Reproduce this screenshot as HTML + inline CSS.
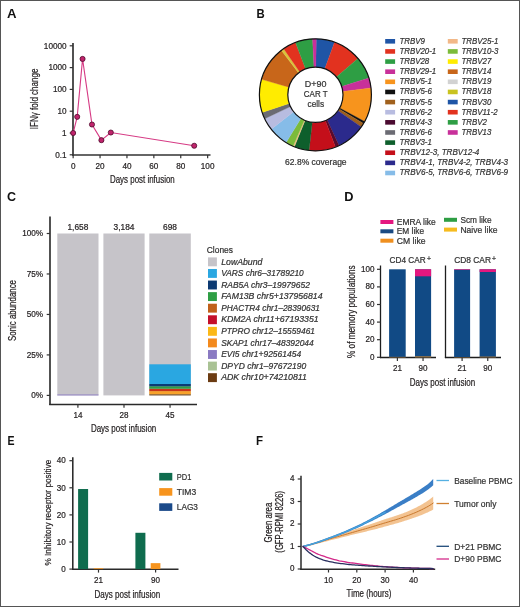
<!DOCTYPE html>
<html><head><meta charset="utf-8"><style>
html,body{margin:0;padding:0;background:#fff;}
body{width:520px;height:607px;overflow:hidden;}
svg{display:block;font-family:"Liberation Sans", sans-serif;will-change:transform;}
</style></head><body>
<svg width="520" height="607" viewBox="0 0 520 607">
<rect x="0" y="0" width="520" height="607" fill="#fff"/>
<text x="7.00" y="17.70" font-size="13.2" fill="#111" font-weight="bold" textLength="9.53" lengthAdjust="spacingAndGlyphs">A</text>
<text x="256.60" y="17.70" font-size="13.2" fill="#111" font-weight="bold" textLength="8.20" lengthAdjust="spacingAndGlyphs">B</text>
<text x="6.90" y="200.60" font-size="13.2" fill="#111" font-weight="bold" textLength="9.06" lengthAdjust="spacingAndGlyphs">C</text>
<text x="344.20" y="200.60" font-size="13.2" fill="#111" font-weight="bold" textLength="9.25" lengthAdjust="spacingAndGlyphs">D</text>
<text x="7.60" y="445.10" font-size="13.2" fill="#111" font-weight="bold" textLength="7.04" lengthAdjust="spacingAndGlyphs">E</text>
<text x="256.10" y="445.10" font-size="13.2" fill="#111" font-weight="bold" textLength="7.02" lengthAdjust="spacingAndGlyphs">F</text>
<line x1="73.00" y1="43.00" x2="73.00" y2="155.80" stroke="#333" stroke-width="1.7"/>
<line x1="69.70" y1="45.80" x2="73.00" y2="45.80" stroke="#333" stroke-width="1.2"/>
<text x="66.60" y="48.60" font-size="8.8" fill="#231f20" stroke="#231f20" stroke-width="0.22" text-anchor="end" textLength="22.76" lengthAdjust="spacingAndGlyphs">10000</text>
<line x1="69.70" y1="67.60" x2="73.00" y2="67.60" stroke="#333" stroke-width="1.2"/>
<text x="66.60" y="70.40" font-size="8.8" fill="#231f20" stroke="#231f20" stroke-width="0.22" text-anchor="end" textLength="18.21" lengthAdjust="spacingAndGlyphs">1000</text>
<line x1="69.70" y1="89.40" x2="73.00" y2="89.40" stroke="#333" stroke-width="1.2"/>
<text x="66.60" y="92.20" font-size="8.8" fill="#231f20" stroke="#231f20" stroke-width="0.22" text-anchor="end" textLength="13.66" lengthAdjust="spacingAndGlyphs">100</text>
<line x1="69.70" y1="111.20" x2="73.00" y2="111.20" stroke="#333" stroke-width="1.2"/>
<text x="66.60" y="114.00" font-size="8.8" fill="#231f20" stroke="#231f20" stroke-width="0.22" text-anchor="end" textLength="9.10" lengthAdjust="spacingAndGlyphs">10</text>
<line x1="69.70" y1="133.00" x2="73.00" y2="133.00" stroke="#333" stroke-width="1.2"/>
<text x="66.60" y="135.80" font-size="8.8" fill="#231f20" stroke="#231f20" stroke-width="0.22" text-anchor="end" textLength="4.55" lengthAdjust="spacingAndGlyphs">1</text>
<line x1="69.70" y1="154.80" x2="73.00" y2="154.80" stroke="#333" stroke-width="1.2"/>
<text x="66.60" y="157.60" font-size="8.8" fill="#231f20" stroke="#231f20" stroke-width="0.22" text-anchor="end" textLength="11.38" lengthAdjust="spacingAndGlyphs">0.1</text>
<line x1="72.20" y1="155.00" x2="210.50" y2="155.00" stroke="#333" stroke-width="1.7"/>
<line x1="73.15" y1="155.00" x2="73.15" y2="158.30" stroke="#333" stroke-width="1.2"/>
<text x="73.15" y="168.70" font-size="8.8" fill="#231f20" stroke="#231f20" stroke-width="0.22" text-anchor="middle" textLength="4.55" lengthAdjust="spacingAndGlyphs">0</text>
<line x1="100.05" y1="155.00" x2="100.05" y2="158.30" stroke="#333" stroke-width="1.2"/>
<text x="100.05" y="168.70" font-size="8.8" fill="#231f20" stroke="#231f20" stroke-width="0.22" text-anchor="middle" textLength="9.10" lengthAdjust="spacingAndGlyphs">20</text>
<line x1="126.95" y1="155.00" x2="126.95" y2="158.30" stroke="#333" stroke-width="1.2"/>
<text x="126.95" y="168.70" font-size="8.8" fill="#231f20" stroke="#231f20" stroke-width="0.22" text-anchor="middle" textLength="9.10" lengthAdjust="spacingAndGlyphs">40</text>
<line x1="153.85" y1="155.00" x2="153.85" y2="158.30" stroke="#333" stroke-width="1.2"/>
<text x="153.85" y="168.70" font-size="8.8" fill="#231f20" stroke="#231f20" stroke-width="0.22" text-anchor="middle" textLength="9.10" lengthAdjust="spacingAndGlyphs">60</text>
<line x1="180.75" y1="155.00" x2="180.75" y2="158.30" stroke="#333" stroke-width="1.2"/>
<text x="180.75" y="168.70" font-size="8.8" fill="#231f20" stroke="#231f20" stroke-width="0.22" text-anchor="middle" textLength="9.10" lengthAdjust="spacingAndGlyphs">80</text>
<line x1="207.65" y1="155.00" x2="207.65" y2="158.30" stroke="#333" stroke-width="1.2"/>
<text x="207.65" y="168.70" font-size="8.8" fill="#231f20" stroke="#231f20" stroke-width="0.22" text-anchor="middle" textLength="13.66" lengthAdjust="spacingAndGlyphs">100</text>
<text x="110.00" y="182.70" font-size="10.2" fill="#231f20" stroke="#231f20" stroke-width="0.22" textLength="64.70" lengthAdjust="spacingAndGlyphs">Days post infusion</text>
<text x="37.60" y="98.90" font-size="11.0" fill="#231f20" stroke="#231f20" stroke-width="0.22" text-anchor="middle" textLength="60.50" lengthAdjust="spacingAndGlyphs" transform="rotate(-90 37.60 98.90)">IFNγ fold change</text>
<polyline points="73.15,133.00 77.19,116.86 82.56,58.92 91.98,124.52 101.40,140.15 110.81,132.54 194.20,145.75" fill="none" stroke="#d63a84" stroke-width="1.1"/>
<circle cx="73.15" cy="133.00" r="2.55" fill="#c0246c" stroke="#4e0c2c" stroke-width="0.8"/>
<circle cx="77.19" cy="116.86" r="2.55" fill="#c0246c" stroke="#4e0c2c" stroke-width="0.8"/>
<circle cx="82.56" cy="58.92" r="2.55" fill="#c0246c" stroke="#4e0c2c" stroke-width="0.8"/>
<circle cx="91.98" cy="124.52" r="2.55" fill="#c0246c" stroke="#4e0c2c" stroke-width="0.8"/>
<circle cx="101.40" cy="140.15" r="2.55" fill="#c0246c" stroke="#4e0c2c" stroke-width="0.8"/>
<circle cx="110.81" cy="132.54" r="2.55" fill="#c0246c" stroke="#4e0c2c" stroke-width="0.8"/>
<circle cx="194.20" cy="145.75" r="2.55" fill="#c0246c" stroke="#4e0c2c" stroke-width="0.8"/>
<path d="M316.28,38.81 A56.0,56.0 0 0 1 334.55,42.18 L324.84,68.86 A27.6,27.6 0 0 0 315.83,67.20 Z" fill="#1f55a6" stroke="#1f55a6" stroke-width="0.3"/>
<path d="M334.55,42.18 A56.0,56.0 0 0 1 357.98,58.43 L336.39,76.88 A27.6,27.6 0 0 0 324.84,68.86 Z" fill="#e2321f" stroke="#e2321f" stroke-width="0.3"/>
<path d="M357.98,58.43 A56.0,56.0 0 0 1 368.81,77.96 L341.72,86.50 A27.6,27.6 0 0 0 336.39,76.88 Z" fill="#2e9e44" stroke="#2e9e44" stroke-width="0.3"/>
<path d="M368.81,77.96 A56.0,56.0 0 0 1 370.98,87.98 L342.79,91.44 A27.6,27.6 0 0 0 341.72,86.50 Z" fill="#c8309a" stroke="#c8309a" stroke-width="0.3"/>
<path d="M370.98,87.98 A56.0,56.0 0 0 1 364.61,121.52 L339.66,107.97 A27.6,27.6 0 0 0 342.79,91.44 Z" fill="#f7941d" stroke="#f7941d" stroke-width="0.3"/>
<path d="M364.61,121.52 A56.0,56.0 0 0 1 363.50,123.47 L339.11,108.93 A27.6,27.6 0 0 0 339.66,107.97 Z" fill="#111111" stroke="#111111" stroke-width="0.3"/>
<path d="M363.50,123.47 A56.0,56.0 0 0 1 361.27,126.92 L338.01,110.63 A27.6,27.6 0 0 0 339.11,108.93 Z" fill="#a0601c" stroke="#a0601c" stroke-width="0.3"/>
<path d="M361.27,126.92 A56.0,56.0 0 0 1 339.07,145.55 L327.06,119.81 A27.6,27.6 0 0 0 338.01,110.63 Z" fill="#2b2a8c" stroke="#2b2a8c" stroke-width="0.3"/>
<path d="M339.07,145.55 A56.0,56.0 0 0 1 335.47,147.08 L325.29,120.57 A27.6,27.6 0 0 0 327.06,119.81 Z" fill="#5a0a2c" stroke="#5a0a2c" stroke-width="0.3"/>
<path d="M335.47,147.08 A56.0,56.0 0 0 1 309.06,150.44 L312.28,122.22 A27.6,27.6 0 0 0 325.29,120.57 Z" fill="#c40f1a" stroke="#c40f1a" stroke-width="0.3"/>
<path d="M309.06,150.44 A56.0,56.0 0 0 1 294.42,146.72 L305.06,120.39 A27.6,27.6 0 0 0 312.28,122.22 Z" fill="#0e5f2c" stroke="#0e5f2c" stroke-width="0.3"/>
<path d="M294.42,146.72 A56.0,56.0 0 0 1 293.07,146.16 L304.39,120.11 A27.6,27.6 0 0 0 305.06,120.39 Z" fill="#f0c080" stroke="#f0c080" stroke-width="0.3"/>
<path d="M293.07,146.16 A56.0,56.0 0 0 1 286.14,142.55 L300.98,118.33 A27.6,27.6 0 0 0 304.39,120.11 Z" fill="#7cbb3a" stroke="#7cbb3a" stroke-width="0.3"/>
<path d="M286.14,142.55 A56.0,56.0 0 0 1 271.27,129.28 L293.65,111.79 A27.6,27.6 0 0 0 300.98,118.33 Z" fill="#86bce8" stroke="#86bce8" stroke-width="0.3"/>
<path d="M271.27,129.28 A56.0,56.0 0 0 1 264.77,118.73 L290.45,106.60 A27.6,27.6 0 0 0 293.65,111.79 Z" fill="#b8bce0" stroke="#b8bce0" stroke-width="0.3"/>
<path d="M264.77,118.73 A56.0,56.0 0 0 1 262.23,112.38 L289.20,103.47 A27.6,27.6 0 0 0 290.45,106.60 Z" fill="#6b6b73" stroke="#6b6b73" stroke-width="0.3"/>
<path d="M262.23,112.38 A56.0,56.0 0 0 1 261.57,79.36 L288.87,87.19 A27.6,27.6 0 0 0 289.20,103.47 Z" fill="#ffec00" stroke="#ffec00" stroke-width="0.3"/>
<path d="M261.57,79.36 A56.0,56.0 0 0 1 281.31,50.37 L298.60,72.90 A27.6,27.6 0 0 0 288.87,87.19 Z" fill="#c8661a" stroke="#c8661a" stroke-width="0.3"/>
<path d="M281.31,50.37 A56.0,56.0 0 0 1 283.68,48.65 L299.77,72.05 A27.6,27.6 0 0 0 298.60,72.90 Z" fill="#d8c43a" stroke="#d8c43a" stroke-width="0.3"/>
<path d="M283.68,48.65 A56.0,56.0 0 0 1 295.51,42.45 L305.60,69.00 A27.6,27.6 0 0 0 299.77,72.05 Z" fill="#e2321f" stroke="#e2321f" stroke-width="0.3"/>
<path d="M295.51,42.45 A56.0,56.0 0 0 1 312.57,38.87 L314.00,67.24 A27.6,27.6 0 0 0 305.60,69.00 Z" fill="#2e9e44" stroke="#2e9e44" stroke-width="0.3"/>
<path d="M312.57,38.87 A56.0,56.0 0 0 1 316.28,38.81 L315.83,67.20 A27.6,27.6 0 0 0 314.00,67.24 Z" fill="#c8309a" stroke="#c8309a" stroke-width="0.3"/>
<circle cx="315.4" cy="94.8" r="56.0" fill="none" stroke="#111" stroke-width="1.2"/>
<circle cx="315.4" cy="94.8" r="27.6" fill="#fff" stroke="#111" stroke-width="1.2"/>
<text x="315.65" y="86.70" font-size="9.4" fill="#333" stroke="#333" stroke-width="0.22" text-anchor="middle" textLength="21.70" lengthAdjust="spacingAndGlyphs">D+90</text>
<text x="315.70" y="96.70" font-size="9.4" fill="#333" stroke="#333" stroke-width="0.22" text-anchor="middle" textLength="23.80" lengthAdjust="spacingAndGlyphs">CAR T</text>
<text x="315.80" y="106.90" font-size="9.4" fill="#333" stroke="#333" stroke-width="0.22" text-anchor="middle" textLength="16.60" lengthAdjust="spacingAndGlyphs">cells</text>
<text x="285.10" y="165.10" font-size="9.0" fill="#333" stroke="#333" stroke-width="0.22" textLength="61.50" lengthAdjust="spacingAndGlyphs">62.8% coverage</text>
<rect x="385.20" y="39.00" width="9.90" height="4.60" fill="#1f55a6"/>
<text x="399.40" y="43.80" font-size="9.2" fill="#333" stroke="#333" stroke-width="0.22" font-style="italic" textLength="25.42" lengthAdjust="spacingAndGlyphs">TRBV9</text>
<rect x="385.20" y="49.13" width="9.90" height="4.60" fill="#e2321f"/>
<text x="399.40" y="53.93" font-size="9.2" fill="#333" stroke="#333" stroke-width="0.22" font-style="italic" textLength="36.81" lengthAdjust="spacingAndGlyphs">TRBV20-1</text>
<rect x="385.20" y="59.26" width="9.90" height="4.60" fill="#2e9e44"/>
<text x="399.40" y="64.06" font-size="9.2" fill="#333" stroke="#333" stroke-width="0.22" font-style="italic" textLength="29.80" lengthAdjust="spacingAndGlyphs">TRBV28</text>
<rect x="385.20" y="69.39" width="9.90" height="4.60" fill="#c8309a"/>
<text x="399.40" y="74.19" font-size="9.2" fill="#333" stroke="#333" stroke-width="0.22" font-style="italic" textLength="36.81" lengthAdjust="spacingAndGlyphs">TRBV29-1</text>
<rect x="385.20" y="79.52" width="9.90" height="4.60" fill="#f7941d"/>
<text x="399.40" y="84.32" font-size="9.2" fill="#333" stroke="#333" stroke-width="0.22" font-style="italic" textLength="32.43" lengthAdjust="spacingAndGlyphs">TRBV5-1</text>
<rect x="385.20" y="89.65" width="9.90" height="4.60" fill="#111111"/>
<text x="399.40" y="94.45" font-size="9.2" fill="#333" stroke="#333" stroke-width="0.22" font-style="italic" textLength="32.43" lengthAdjust="spacingAndGlyphs">TRBV5-6</text>
<rect x="385.20" y="99.78" width="9.90" height="4.60" fill="#a0601c"/>
<text x="399.40" y="104.58" font-size="9.2" fill="#333" stroke="#333" stroke-width="0.22" font-style="italic" textLength="32.43" lengthAdjust="spacingAndGlyphs">TRBV5-5</text>
<rect x="385.20" y="109.91" width="9.90" height="4.60" fill="#b8bce0"/>
<text x="399.40" y="114.71" font-size="9.2" fill="#333" stroke="#333" stroke-width="0.22" font-style="italic" textLength="32.43" lengthAdjust="spacingAndGlyphs">TRBV6-2</text>
<rect x="385.20" y="120.04" width="9.90" height="4.60" fill="#4a0a30"/>
<text x="399.40" y="124.84" font-size="9.2" fill="#333" stroke="#333" stroke-width="0.22" font-style="italic" textLength="32.43" lengthAdjust="spacingAndGlyphs">TRBV4-3</text>
<rect x="385.20" y="130.17" width="9.90" height="4.60" fill="#6b6b73"/>
<text x="399.40" y="134.97" font-size="9.2" fill="#333" stroke="#333" stroke-width="0.22" font-style="italic" textLength="32.43" lengthAdjust="spacingAndGlyphs">TRBV6-6</text>
<rect x="385.20" y="140.30" width="9.90" height="4.60" fill="#0e5f2c"/>
<text x="399.40" y="145.10" font-size="9.2" fill="#333" stroke="#333" stroke-width="0.22" font-style="italic" textLength="32.43" lengthAdjust="spacingAndGlyphs">TRBV3-1</text>
<rect x="385.20" y="150.43" width="9.90" height="4.60" fill="#c40f1a"/>
<text x="399.40" y="155.23" font-size="9.2" fill="#333" stroke="#333" stroke-width="0.22" font-style="italic" textLength="79.98" lengthAdjust="spacingAndGlyphs">TRBV12-3, TRBV12-4</text>
<rect x="385.20" y="160.56" width="9.90" height="4.60" fill="#2b2a8c"/>
<text x="399.40" y="165.36" font-size="9.2" fill="#333" stroke="#333" stroke-width="0.22" font-style="italic" textLength="108.72" lengthAdjust="spacingAndGlyphs">TRBV4-1, TRBV4-2, TRBV4-3</text>
<rect x="385.20" y="170.69" width="9.90" height="4.60" fill="#86bce8"/>
<text x="399.40" y="175.49" font-size="9.2" fill="#333" stroke="#333" stroke-width="0.22" font-style="italic" textLength="108.72" lengthAdjust="spacingAndGlyphs">TRBV6-5, TRBV6-6, TRBV6-9</text>
<rect x="447.80" y="39.00" width="9.90" height="4.60" fill="#f2b888"/>
<text x="461.50" y="43.80" font-size="9.2" fill="#333" stroke="#333" stroke-width="0.22" font-style="italic" textLength="36.81" lengthAdjust="spacingAndGlyphs">TRBV25-1</text>
<rect x="447.80" y="49.13" width="9.90" height="4.60" fill="#7cbb3a"/>
<text x="461.50" y="53.93" font-size="9.2" fill="#333" stroke="#333" stroke-width="0.22" font-style="italic" textLength="36.81" lengthAdjust="spacingAndGlyphs">TRBV10-3</text>
<rect x="447.80" y="59.26" width="9.90" height="4.60" fill="#ffec00"/>
<text x="461.50" y="64.06" font-size="9.2" fill="#333" stroke="#333" stroke-width="0.22" font-style="italic" textLength="29.80" lengthAdjust="spacingAndGlyphs">TRBV27</text>
<rect x="447.80" y="69.39" width="9.90" height="4.60" fill="#c8661a"/>
<text x="461.50" y="74.19" font-size="9.2" fill="#333" stroke="#333" stroke-width="0.22" font-style="italic" textLength="29.80" lengthAdjust="spacingAndGlyphs">TRBV14</text>
<rect x="447.80" y="79.52" width="9.90" height="4.60" fill="#d2d2d2"/>
<text x="461.50" y="84.32" font-size="9.2" fill="#333" stroke="#333" stroke-width="0.22" font-style="italic" textLength="29.80" lengthAdjust="spacingAndGlyphs">TRBV19</text>
<rect x="447.80" y="89.65" width="9.90" height="4.60" fill="#c9c320"/>
<text x="461.50" y="94.45" font-size="9.2" fill="#333" stroke="#333" stroke-width="0.22" font-style="italic" textLength="29.80" lengthAdjust="spacingAndGlyphs">TRBV18</text>
<rect x="447.80" y="99.78" width="9.90" height="4.60" fill="#1f55a6"/>
<text x="461.50" y="104.58" font-size="9.2" fill="#333" stroke="#333" stroke-width="0.22" font-style="italic" textLength="29.80" lengthAdjust="spacingAndGlyphs">TRBV30</text>
<rect x="447.80" y="109.91" width="9.90" height="4.60" fill="#e2321f"/>
<text x="461.50" y="114.71" font-size="9.2" fill="#333" stroke="#333" stroke-width="0.22" font-style="italic" textLength="36.23" lengthAdjust="spacingAndGlyphs">TRBV11-2</text>
<rect x="447.80" y="120.04" width="9.90" height="4.60" fill="#2e9e44"/>
<text x="461.50" y="124.84" font-size="9.2" fill="#333" stroke="#333" stroke-width="0.22" font-style="italic" textLength="25.42" lengthAdjust="spacingAndGlyphs">TRBV2</text>
<rect x="447.80" y="130.17" width="9.90" height="4.60" fill="#c8309a"/>
<text x="461.50" y="134.97" font-size="9.2" fill="#333" stroke="#333" stroke-width="0.22" font-style="italic" textLength="29.80" lengthAdjust="spacingAndGlyphs">TRBV13</text>
<line x1="50.00" y1="216.50" x2="50.00" y2="405.10" stroke="#333" stroke-width="1.7"/>
<line x1="49.20" y1="404.40" x2="197.00" y2="404.40" stroke="#2a2a2a" stroke-width="1.5"/>
<line x1="46.70" y1="233.50" x2="50.00" y2="233.50" stroke="#333" stroke-width="1.2"/>
<text x="43.10" y="236.10" font-size="8.8" fill="#231f20" stroke="#231f20" stroke-width="0.22" text-anchor="end" textLength="20.93" lengthAdjust="spacingAndGlyphs">100%</text>
<line x1="46.70" y1="273.97" x2="50.00" y2="273.97" stroke="#333" stroke-width="1.2"/>
<text x="43.10" y="276.57" font-size="8.8" fill="#231f20" stroke="#231f20" stroke-width="0.22" text-anchor="end" textLength="16.38" lengthAdjust="spacingAndGlyphs">75%</text>
<line x1="46.70" y1="314.45" x2="50.00" y2="314.45" stroke="#333" stroke-width="1.2"/>
<text x="43.10" y="317.05" font-size="8.8" fill="#231f20" stroke="#231f20" stroke-width="0.22" text-anchor="end" textLength="16.38" lengthAdjust="spacingAndGlyphs">50%</text>
<line x1="46.70" y1="354.92" x2="50.00" y2="354.92" stroke="#333" stroke-width="1.2"/>
<text x="43.10" y="357.52" font-size="8.8" fill="#231f20" stroke="#231f20" stroke-width="0.22" text-anchor="end" textLength="16.38" lengthAdjust="spacingAndGlyphs">25%</text>
<line x1="46.70" y1="395.40" x2="50.00" y2="395.40" stroke="#333" stroke-width="1.2"/>
<text x="43.10" y="398.00" font-size="8.8" fill="#231f20" stroke="#231f20" stroke-width="0.22" text-anchor="end" textLength="11.83" lengthAdjust="spacingAndGlyphs">0%</text>
<rect x="57.30" y="233.50" width="41.20" height="161.90" fill="#c6c4c9"/>
<line x1="77.90" y1="404.40" x2="77.90" y2="407.70" stroke="#333" stroke-width="1.2"/>
<text x="77.90" y="417.90" font-size="8.8" fill="#231f20" stroke="#231f20" stroke-width="0.22" text-anchor="middle" textLength="9.01" lengthAdjust="spacingAndGlyphs">14</text>
<text x="77.90" y="230.30" font-size="8.6" fill="#231f20" stroke="#231f20" stroke-width="0.22" text-anchor="middle" textLength="20.88" lengthAdjust="spacingAndGlyphs">1,658</text>
<rect x="103.40" y="233.50" width="41.20" height="161.90" fill="#c6c4c9"/>
<line x1="124.00" y1="404.40" x2="124.00" y2="407.70" stroke="#333" stroke-width="1.2"/>
<text x="124.00" y="417.90" font-size="8.8" fill="#231f20" stroke="#231f20" stroke-width="0.22" text-anchor="middle" textLength="9.01" lengthAdjust="spacingAndGlyphs">28</text>
<text x="124.00" y="230.30" font-size="8.6" fill="#231f20" stroke="#231f20" stroke-width="0.22" text-anchor="middle" textLength="20.88" lengthAdjust="spacingAndGlyphs">3,184</text>
<rect x="149.30" y="233.50" width="41.50" height="161.90" fill="#c6c4c9"/>
<line x1="170.05" y1="404.40" x2="170.05" y2="407.70" stroke="#333" stroke-width="1.2"/>
<text x="170.05" y="417.90" font-size="8.8" fill="#231f20" stroke="#231f20" stroke-width="0.22" text-anchor="middle" textLength="9.01" lengthAdjust="spacingAndGlyphs">45</text>
<text x="170.05" y="230.30" font-size="8.6" fill="#231f20" stroke="#231f20" stroke-width="0.22" text-anchor="middle" textLength="13.92" lengthAdjust="spacingAndGlyphs">698</text>
<rect x="57.30" y="394.50" width="41.20" height="0.90" fill="#8a7ac2"/>
<rect x="149.30" y="394.20" width="41.50" height="1.20" fill="#7a5020"/>
<rect x="149.30" y="391.10" width="41.50" height="3.10" fill="#f7a22a"/>
<rect x="149.30" y="388.70" width="41.50" height="2.40" fill="#c8341a"/>
<rect x="149.30" y="386.30" width="41.50" height="2.40" fill="#2e9e44"/>
<rect x="149.30" y="384.00" width="41.50" height="2.30" fill="#0c3a72"/>
<rect x="149.30" y="364.30" width="41.50" height="19.70" fill="#2aa7e1"/>
<text x="16.40" y="310.50" font-size="10.2" fill="#231f20" stroke="#231f20" stroke-width="0.22" text-anchor="middle" textLength="61.00" lengthAdjust="spacingAndGlyphs" transform="rotate(-90 16.40 310.50)">Sonic abundance</text>
<text x="90.90" y="432.10" font-size="10.2" fill="#231f20" stroke="#231f20" stroke-width="0.22" textLength="65.40" lengthAdjust="spacingAndGlyphs">Days post infusion</text>
<text x="206.80" y="252.60" font-size="8.9" fill="#333" stroke="#333" stroke-width="0.22" textLength="26.20" lengthAdjust="spacingAndGlyphs">Clones</text>
<rect x="208.00" y="257.40" width="8.90" height="8.90" fill="#c6c4c9"/>
<text x="221.20" y="264.50" font-size="8.9" fill="#333" stroke="#333" stroke-width="0.22" font-style="italic" textLength="41.25" lengthAdjust="spacingAndGlyphs">LowAbund</text>
<rect x="208.00" y="268.98" width="8.90" height="8.90" fill="#2aa7e1"/>
<text x="221.20" y="276.08" font-size="8.9" fill="#333" stroke="#333" stroke-width="0.22" font-style="italic" textLength="82.50" lengthAdjust="spacingAndGlyphs">VARS chr6–31789210</text>
<rect x="208.00" y="280.56" width="8.90" height="8.90" fill="#0c3a72"/>
<text x="221.20" y="287.66" font-size="8.9" fill="#333" stroke="#333" stroke-width="0.22" font-style="italic" textLength="88.75" lengthAdjust="spacingAndGlyphs">RAB5A chr3–19979652</text>
<rect x="208.00" y="292.14" width="8.90" height="8.90" fill="#2e9e44"/>
<text x="221.20" y="299.24" font-size="8.9" fill="#333" stroke="#333" stroke-width="0.22" font-style="italic" textLength="101.30" lengthAdjust="spacingAndGlyphs">FAM13B chr5+137956814</text>
<rect x="208.00" y="303.72" width="8.90" height="8.90" fill="#c0601a"/>
<text x="221.20" y="310.82" font-size="8.9" fill="#333" stroke="#333" stroke-width="0.22" font-style="italic" textLength="98.75" lengthAdjust="spacingAndGlyphs">PHACTR4 chr1–28390631</text>
<rect x="208.00" y="315.30" width="8.90" height="8.90" fill="#c40f2a"/>
<text x="221.20" y="322.40" font-size="8.9" fill="#333" stroke="#333" stroke-width="0.22" font-style="italic" textLength="97.50" lengthAdjust="spacingAndGlyphs">KDM2A chr11+67193351</text>
<rect x="208.00" y="326.88" width="8.90" height="8.90" fill="#fbb817"/>
<text x="221.20" y="333.98" font-size="8.9" fill="#333" stroke="#333" stroke-width="0.22" font-style="italic" textLength="93.75" lengthAdjust="spacingAndGlyphs">PTPRO chr12–15559461</text>
<rect x="208.00" y="338.46" width="8.90" height="8.90" fill="#f38a1d"/>
<text x="221.20" y="345.56" font-size="8.9" fill="#333" stroke="#333" stroke-width="0.22" font-style="italic" textLength="92.50" lengthAdjust="spacingAndGlyphs">SKAP1 chr17–48392044</text>
<rect x="208.00" y="350.04" width="8.90" height="8.90" fill="#8a7ac2"/>
<text x="221.20" y="357.14" font-size="8.9" fill="#333" stroke="#333" stroke-width="0.22" font-style="italic" textLength="80.00" lengthAdjust="spacingAndGlyphs">EVI5 chr1+92561454</text>
<rect x="208.00" y="361.62" width="8.90" height="8.90" fill="#a9c294"/>
<text x="221.20" y="368.72" font-size="8.9" fill="#333" stroke="#333" stroke-width="0.22" font-style="italic" textLength="85.00" lengthAdjust="spacingAndGlyphs">DPYD chr1–97672190</text>
<rect x="208.00" y="373.20" width="8.90" height="8.90" fill="#6b3b12"/>
<text x="221.20" y="380.30" font-size="8.9" fill="#333" stroke="#333" stroke-width="0.22" font-style="italic" textLength="85.75" lengthAdjust="spacingAndGlyphs">ADK chr10+74210811</text>
<rect x="380.40" y="220.00" width="13.00" height="4.00" fill="#e4177f"/>
<text x="396.80" y="224.90" font-size="9.0" fill="#333" stroke="#333" stroke-width="0.22" textLength="39.00" lengthAdjust="spacingAndGlyphs">EMRA like</text>
<rect x="380.40" y="229.30" width="13.00" height="4.00" fill="#1a4a82"/>
<text x="396.80" y="234.20" font-size="9.0" fill="#333" stroke="#333" stroke-width="0.22" textLength="27.30" lengthAdjust="spacingAndGlyphs">EM like</text>
<rect x="380.40" y="238.70" width="13.00" height="4.00" fill="#ef8f1f"/>
<text x="396.80" y="243.60" font-size="9.0" fill="#333" stroke="#333" stroke-width="0.22" textLength="28.70" lengthAdjust="spacingAndGlyphs">CM like</text>
<rect x="444.00" y="217.80" width="13.00" height="4.00" fill="#2e9e44"/>
<text x="460.40" y="222.70" font-size="9.0" fill="#333" stroke="#333" stroke-width="0.22" textLength="31.20" lengthAdjust="spacingAndGlyphs">Scm like</text>
<rect x="444.00" y="227.60" width="13.00" height="4.00" fill="#f6bb1f"/>
<text x="460.40" y="232.50" font-size="9.0" fill="#333" stroke="#333" stroke-width="0.22" textLength="37.00" lengthAdjust="spacingAndGlyphs">Naive like</text>
<text x="389.50" y="263.20" font-size="8.6" fill="#333" stroke="#333" stroke-width="0.22" textLength="36.20" lengthAdjust="spacingAndGlyphs">CD4 CAR</text>
<text x="427.00" y="261.00" font-size="6.8" fill="#333" stroke="#333" stroke-width="0.22">+</text>
<text x="454.20" y="263.00" font-size="8.6" fill="#333" stroke="#333" stroke-width="0.22" textLength="36.80" lengthAdjust="spacingAndGlyphs">CD8 CAR</text>
<text x="491.90" y="260.70" font-size="6.8" fill="#333" stroke="#333" stroke-width="0.22">+</text>
<line x1="380.50" y1="265.50" x2="380.50" y2="358.10" stroke="#1e1e1e" stroke-width="1.3"/>
<line x1="445.50" y1="265.50" x2="445.50" y2="358.10" stroke="#1e1e1e" stroke-width="1.3"/>
<line x1="379.90" y1="357.50" x2="436.00" y2="357.50" stroke="#1e1e1e" stroke-width="1.3"/>
<line x1="444.90" y1="357.50" x2="501.00" y2="357.50" stroke="#1e1e1e" stroke-width="1.3"/>
<line x1="377.00" y1="269.30" x2="380.50" y2="269.30" stroke="#333" stroke-width="1.2"/>
<text x="374.50" y="271.70" font-size="8.8" fill="#231f20" stroke="#231f20" stroke-width="0.22" text-anchor="end" textLength="13.51" lengthAdjust="spacingAndGlyphs">100</text>
<line x1="377.00" y1="286.90" x2="380.50" y2="286.90" stroke="#333" stroke-width="1.2"/>
<text x="374.50" y="289.30" font-size="8.8" fill="#231f20" stroke="#231f20" stroke-width="0.22" text-anchor="end" textLength="9.01" lengthAdjust="spacingAndGlyphs">80</text>
<line x1="377.00" y1="304.50" x2="380.50" y2="304.50" stroke="#333" stroke-width="1.2"/>
<text x="374.50" y="306.90" font-size="8.8" fill="#231f20" stroke="#231f20" stroke-width="0.22" text-anchor="end" textLength="9.01" lengthAdjust="spacingAndGlyphs">60</text>
<line x1="377.00" y1="322.10" x2="380.50" y2="322.10" stroke="#333" stroke-width="1.2"/>
<text x="374.50" y="324.50" font-size="8.8" fill="#231f20" stroke="#231f20" stroke-width="0.22" text-anchor="end" textLength="9.01" lengthAdjust="spacingAndGlyphs">40</text>
<line x1="377.00" y1="339.70" x2="380.50" y2="339.70" stroke="#333" stroke-width="1.2"/>
<text x="374.50" y="342.10" font-size="8.8" fill="#231f20" stroke="#231f20" stroke-width="0.22" text-anchor="end" textLength="9.01" lengthAdjust="spacingAndGlyphs">20</text>
<line x1="377.00" y1="357.30" x2="380.50" y2="357.30" stroke="#333" stroke-width="1.2"/>
<text x="374.50" y="359.70" font-size="8.8" fill="#231f20" stroke="#231f20" stroke-width="0.22" text-anchor="end" textLength="4.50" lengthAdjust="spacingAndGlyphs">0</text>
<rect x="389.10" y="269.30" width="16.60" height="88.00" fill="#114a85"/>
<rect x="389.10" y="356.90" width="16.60" height="0.40" fill="#ef8f1f"/>
<line x1="397.40" y1="357.50" x2="397.40" y2="360.90" stroke="#333" stroke-width="1.2"/>
<text x="397.40" y="371.00" font-size="8.8" fill="#231f20" stroke="#231f20" stroke-width="0.22" text-anchor="middle" textLength="9.01" lengthAdjust="spacingAndGlyphs">21</text>
<rect x="415.00" y="269.30" width="16.10" height="88.00" fill="#114a85"/>
<rect x="415.00" y="269.30" width="16.10" height="7.00" fill="#e4177f"/>
<rect x="415.00" y="356.50" width="16.10" height="0.80" fill="#ef8f1f"/>
<line x1="423.05" y1="357.50" x2="423.05" y2="360.90" stroke="#333" stroke-width="1.2"/>
<text x="423.05" y="371.00" font-size="8.8" fill="#231f20" stroke="#231f20" stroke-width="0.22" text-anchor="middle" textLength="9.01" lengthAdjust="spacingAndGlyphs">90</text>
<rect x="454.10" y="269.30" width="16.00" height="88.00" fill="#114a85"/>
<rect x="454.10" y="269.30" width="16.00" height="0.60" fill="#e4177f"/>
<rect x="454.10" y="357.00" width="16.00" height="0.30" fill="#ef8f1f"/>
<line x1="462.10" y1="357.50" x2="462.10" y2="360.90" stroke="#333" stroke-width="1.2"/>
<text x="462.10" y="371.00" font-size="8.8" fill="#231f20" stroke="#231f20" stroke-width="0.22" text-anchor="middle" textLength="9.01" lengthAdjust="spacingAndGlyphs">21</text>
<rect x="479.60" y="269.30" width="16.30" height="88.00" fill="#114a85"/>
<rect x="479.60" y="269.30" width="16.30" height="2.70" fill="#e4177f"/>
<rect x="479.60" y="356.70" width="16.30" height="0.60" fill="#ef8f1f"/>
<line x1="487.75" y1="357.50" x2="487.75" y2="360.90" stroke="#333" stroke-width="1.2"/>
<text x="487.75" y="371.00" font-size="8.8" fill="#231f20" stroke="#231f20" stroke-width="0.22" text-anchor="middle" textLength="9.01" lengthAdjust="spacingAndGlyphs">90</text>
<text x="354.60" y="311.70" font-size="10.2" fill="#231f20" stroke="#231f20" stroke-width="0.22" text-anchor="middle" textLength="92.50" lengthAdjust="spacingAndGlyphs" transform="rotate(-90 354.60 311.70)">% of memory populations</text>
<text x="409.80" y="386.20" font-size="10.2" fill="#231f20" stroke="#231f20" stroke-width="0.22" textLength="65.40" lengthAdjust="spacingAndGlyphs">Days post infusion</text>
<line x1="72.80" y1="457.30" x2="72.80" y2="570.10" stroke="#222" stroke-width="1.5"/>
<line x1="72.00" y1="569.30" x2="178.50" y2="569.30" stroke="#2a2a2a" stroke-width="1.5"/>
<line x1="69.40" y1="460.70" x2="72.80" y2="460.70" stroke="#333" stroke-width="1.2"/>
<text x="65.80" y="463.40" font-size="8.8" fill="#231f20" stroke="#231f20" stroke-width="0.22" text-anchor="end" textLength="9.01" lengthAdjust="spacingAndGlyphs">40</text>
<line x1="69.40" y1="487.80" x2="72.80" y2="487.80" stroke="#333" stroke-width="1.2"/>
<text x="65.80" y="490.50" font-size="8.8" fill="#231f20" stroke="#231f20" stroke-width="0.22" text-anchor="end" textLength="9.01" lengthAdjust="spacingAndGlyphs">30</text>
<line x1="69.40" y1="514.90" x2="72.80" y2="514.90" stroke="#333" stroke-width="1.2"/>
<text x="65.80" y="517.60" font-size="8.8" fill="#231f20" stroke="#231f20" stroke-width="0.22" text-anchor="end" textLength="9.01" lengthAdjust="spacingAndGlyphs">20</text>
<line x1="69.40" y1="542.00" x2="72.80" y2="542.00" stroke="#333" stroke-width="1.2"/>
<text x="65.80" y="544.70" font-size="8.8" fill="#231f20" stroke="#231f20" stroke-width="0.22" text-anchor="end" textLength="9.01" lengthAdjust="spacingAndGlyphs">10</text>
<line x1="69.40" y1="569.10" x2="72.80" y2="569.10" stroke="#333" stroke-width="1.2"/>
<text x="65.80" y="571.80" font-size="8.8" fill="#231f20" stroke="#231f20" stroke-width="0.22" text-anchor="end" textLength="4.50" lengthAdjust="spacingAndGlyphs">0</text>
<rect x="78.10" y="489.02" width="10.00" height="80.08" fill="#0f6c4e"/>
<rect x="93.70" y="568.29" width="9.50" height="0.81" fill="#f7941d"/>
<rect x="135.40" y="532.79" width="10.00" height="36.31" fill="#0f6c4e"/>
<rect x="150.70" y="563.14" width="9.70" height="5.96" fill="#f7941d"/>
<line x1="98.50" y1="569.30" x2="98.50" y2="572.60" stroke="#333" stroke-width="1.2"/>
<text x="98.50" y="582.90" font-size="8.8" fill="#231f20" stroke="#231f20" stroke-width="0.22" text-anchor="middle" textLength="9.01" lengthAdjust="spacingAndGlyphs">21</text>
<line x1="155.60" y1="569.30" x2="155.60" y2="572.60" stroke="#333" stroke-width="1.2"/>
<text x="155.60" y="582.90" font-size="8.8" fill="#231f20" stroke="#231f20" stroke-width="0.22" text-anchor="middle" textLength="9.01" lengthAdjust="spacingAndGlyphs">90</text>
<text x="94.50" y="597.60" font-size="10.2" fill="#231f20" stroke="#231f20" stroke-width="0.22" textLength="65.70" lengthAdjust="spacingAndGlyphs">Days post infusion</text>
<text x="50.60" y="512.60" font-size="9.8" fill="#231f20" stroke="#231f20" stroke-width="0.22" text-anchor="middle" textLength="105.90" lengthAdjust="spacingAndGlyphs" transform="rotate(-90 50.60 512.60)">% Inhibitory receptor positive</text>
<rect x="159.20" y="472.90" width="13.10" height="7.60" fill="#0f6c4e"/>
<text x="176.80" y="479.50" font-size="8.9" fill="#333" stroke="#333" stroke-width="0.22" textLength="14.50" lengthAdjust="spacingAndGlyphs">PD1</text>
<rect x="159.20" y="488.10" width="13.10" height="7.60" fill="#f7941d"/>
<text x="176.80" y="494.70" font-size="8.9" fill="#333" stroke="#333" stroke-width="0.22" textLength="19.40" lengthAdjust="spacingAndGlyphs">TIM3</text>
<rect x="159.20" y="503.30" width="13.10" height="7.60" fill="#1b4a8a"/>
<text x="176.80" y="509.90" font-size="8.9" fill="#333" stroke="#333" stroke-width="0.22" textLength="21.10" lengthAdjust="spacingAndGlyphs">LAG3</text>
<line x1="301.00" y1="475.80" x2="301.00" y2="570.10" stroke="#444" stroke-width="1.7"/>
<line x1="300.20" y1="569.30" x2="435.20" y2="569.30" stroke="#2a2a2a" stroke-width="1.5"/>
<line x1="297.70" y1="479.00" x2="301.00" y2="479.00" stroke="#333" stroke-width="1.2"/>
<text x="294.60" y="481.30" font-size="8.8" fill="#231f20" stroke="#231f20" stroke-width="0.22" text-anchor="end" textLength="4.50" lengthAdjust="spacingAndGlyphs">4</text>
<line x1="297.70" y1="501.50" x2="301.00" y2="501.50" stroke="#333" stroke-width="1.2"/>
<text x="294.60" y="503.80" font-size="8.8" fill="#231f20" stroke="#231f20" stroke-width="0.22" text-anchor="end" textLength="4.50" lengthAdjust="spacingAndGlyphs">3</text>
<line x1="297.70" y1="524.00" x2="301.00" y2="524.00" stroke="#333" stroke-width="1.2"/>
<text x="294.60" y="526.30" font-size="8.8" fill="#231f20" stroke="#231f20" stroke-width="0.22" text-anchor="end" textLength="4.50" lengthAdjust="spacingAndGlyphs">2</text>
<line x1="297.70" y1="546.50" x2="301.00" y2="546.50" stroke="#333" stroke-width="1.2"/>
<text x="294.60" y="548.80" font-size="8.8" fill="#231f20" stroke="#231f20" stroke-width="0.22" text-anchor="end" textLength="4.50" lengthAdjust="spacingAndGlyphs">1</text>
<line x1="297.70" y1="569.00" x2="301.00" y2="569.00" stroke="#333" stroke-width="1.2"/>
<text x="294.60" y="571.30" font-size="8.8" fill="#231f20" stroke="#231f20" stroke-width="0.22" text-anchor="end" textLength="4.50" lengthAdjust="spacingAndGlyphs">0</text>
<line x1="328.50" y1="569.30" x2="328.50" y2="572.50" stroke="#333" stroke-width="1.2"/>
<text x="328.50" y="583.00" font-size="8.8" fill="#231f20" stroke="#231f20" stroke-width="0.22" text-anchor="middle" textLength="9.01" lengthAdjust="spacingAndGlyphs">10</text>
<line x1="356.80" y1="569.30" x2="356.80" y2="572.50" stroke="#333" stroke-width="1.2"/>
<text x="356.80" y="583.00" font-size="8.8" fill="#231f20" stroke="#231f20" stroke-width="0.22" text-anchor="middle" textLength="9.01" lengthAdjust="spacingAndGlyphs">20</text>
<line x1="385.10" y1="569.30" x2="385.10" y2="572.50" stroke="#333" stroke-width="1.2"/>
<text x="385.10" y="583.00" font-size="8.8" fill="#231f20" stroke="#231f20" stroke-width="0.22" text-anchor="middle" textLength="9.01" lengthAdjust="spacingAndGlyphs">30</text>
<line x1="413.40" y1="569.30" x2="413.40" y2="572.50" stroke="#333" stroke-width="1.2"/>
<text x="413.40" y="583.00" font-size="8.8" fill="#231f20" stroke="#231f20" stroke-width="0.22" text-anchor="middle" textLength="9.01" lengthAdjust="spacingAndGlyphs">40</text>
<text x="346.60" y="596.70" font-size="10.2" fill="#231f20" stroke="#231f20" stroke-width="0.22" textLength="44.70" lengthAdjust="spacingAndGlyphs">Time (hours)</text>
<text x="271.80" y="522.60" font-size="10.2" fill="#231f20" stroke="#231f20" stroke-width="0.22" text-anchor="middle" textLength="39.90" lengthAdjust="spacingAndGlyphs" transform="rotate(-90 271.80 522.60)">Green area</text>
<text x="283.30" y="521.80" font-size="10.2" fill="#231f20" stroke="#231f20" stroke-width="0.22" text-anchor="middle" textLength="61.70" lengthAdjust="spacingAndGlyphs" transform="rotate(-90 283.30 521.80)">(GFP-RPMI 8226)</text>
<path d="M303.03,546.00 L304.12,545.69 L305.22,545.38 L306.31,545.06 L307.41,544.74 L308.50,544.42 L309.59,544.09 L310.69,543.76 L311.78,543.42 L312.88,543.08 L313.97,542.74 L315.06,542.39 L316.16,542.03 L317.25,541.67 L318.35,541.30 L319.44,540.92 L320.53,540.54 L321.63,540.16 L322.72,539.78 L323.82,539.40 L324.91,539.02 L326.00,538.64 L327.10,538.27 L328.19,537.90 L329.28,537.54 L330.38,537.18 L331.47,536.83 L332.57,536.47 L333.66,536.12 L334.75,535.77 L335.85,535.42 L336.94,535.07 L338.04,534.73 L339.13,534.38 L340.22,534.03 L341.32,533.68 L342.41,533.33 L343.51,532.98 L344.60,532.63 L345.69,532.28 L346.79,531.93 L347.88,531.58 L348.98,531.23 L350.07,530.88 L351.16,530.53 L352.26,530.17 L353.35,529.82 L354.45,529.46 L355.54,529.11 L356.63,528.75 L357.73,528.40 L358.82,528.04 L359.92,527.68 L361.01,527.32 L362.10,526.96 L363.20,526.60 L364.29,526.24 L365.39,525.87 L366.48,525.51 L367.57,525.14 L368.67,524.77 L369.76,524.40 L370.85,524.03 L371.95,523.66 L373.04,523.28 L374.14,522.91 L375.23,522.53 L376.32,522.16 L377.42,521.78 L378.51,521.41 L379.61,521.04 L380.70,520.67 L381.79,520.30 L382.89,519.94 L383.98,519.58 L385.08,519.22 L386.17,518.87 L387.26,518.52 L388.36,518.17 L389.45,517.82 L390.55,517.48 L391.64,517.14 L392.73,516.79 L393.83,516.44 L394.92,516.09 L396.02,515.73 L397.11,515.36 L398.20,514.99 L399.30,514.60 L400.39,514.21 L401.49,513.81 L402.58,513.41 L403.67,513.00 L404.77,512.58 L405.86,512.15 L406.96,511.71 L408.05,511.26 L409.14,510.80 L410.24,510.33 L411.33,509.83 L412.42,509.33 L413.52,508.81 L414.61,508.27 L415.71,507.73 L416.80,507.17 L417.89,506.59 L418.99,506.01 L420.08,505.41 L421.18,504.79 L422.27,504.16 L423.36,503.52 L424.46,502.86 L425.55,502.18 L426.65,501.48 L427.74,500.75 L428.83,499.99 L429.93,499.18 L431.02,498.33 L432.12,497.46 L433.21,496.57 L433.21,509.57 L432.12,510.17 L431.02,510.76 L429.93,511.33 L428.83,511.87 L427.74,512.38 L426.65,512.87 L425.55,513.34 L424.46,513.81 L423.36,514.27 L422.27,514.71 L421.18,515.14 L420.08,515.57 L418.99,515.98 L417.89,516.39 L416.80,516.78 L415.71,517.18 L414.61,517.56 L413.52,517.94 L412.42,518.32 L411.33,518.69 L410.24,519.06 L409.14,519.43 L408.05,519.79 L406.96,520.15 L405.86,520.50 L404.77,520.86 L403.67,521.20 L402.58,521.55 L401.49,521.89 L400.39,522.23 L399.30,522.56 L398.20,522.90 L397.11,523.22 L396.02,523.53 L394.92,523.85 L393.83,524.15 L392.73,524.45 L391.64,524.75 L390.55,525.05 L389.45,525.35 L388.36,525.65 L387.26,525.94 L386.17,526.24 L385.08,526.54 L383.98,526.85 L382.89,527.15 L381.79,527.45 L380.70,527.75 L379.61,528.05 L378.51,528.35 L377.42,528.64 L376.32,528.93 L375.23,529.21 L374.14,529.50 L373.04,529.78 L371.95,530.05 L370.85,530.32 L369.76,530.59 L368.67,530.86 L367.57,531.12 L366.48,531.38 L365.39,531.64 L364.29,531.90 L363.20,532.16 L362.10,532.42 L361.01,532.68 L359.92,532.94 L358.82,533.21 L357.73,533.47 L356.63,533.74 L355.54,534.01 L354.45,534.28 L353.35,534.55 L352.26,534.83 L351.16,535.10 L350.07,535.37 L348.98,535.65 L347.88,535.92 L346.79,536.20 L345.69,536.47 L344.60,536.75 L343.51,537.03 L342.41,537.30 L341.32,537.58 L340.22,537.85 L339.13,538.13 L338.04,538.40 L336.94,538.67 L335.85,538.95 L334.75,539.22 L333.66,539.49 L332.57,539.77 L331.47,540.04 L330.38,540.32 L329.28,540.60 L328.19,540.88 L327.10,541.17 L326.00,541.46 L324.91,541.75 L323.82,542.05 L322.72,542.35 L321.63,542.64 L320.53,542.94 L319.44,543.23 L318.35,543.52 L317.25,543.81 L316.16,544.09 L315.06,544.36 L313.97,544.62 L312.88,544.88 L311.78,545.13 L310.69,545.38 L309.59,545.62 L308.50,545.86 L307.41,546.10 L306.31,546.33 L305.22,546.56 L304.12,546.78 L303.03,547.00 Z" fill="#f3c391"/>
<path d="M303.03,546.50 L304.68,546.10 L306.33,545.69 L307.97,545.28 L309.62,544.85 L311.27,544.41 L312.92,543.97 L314.56,543.52 L316.21,543.04 L317.86,542.56 L319.51,542.06 L321.16,541.55 L322.80,541.04 L324.45,540.53 L326.10,540.02 L327.75,539.52 L329.40,539.04 L331.04,538.56 L332.69,538.08 L334.34,537.61 L335.99,537.14 L337.63,536.68 L339.28,536.21 L340.93,535.74 L342.58,535.27 L344.23,534.80 L345.87,534.33 L347.52,533.86 L349.17,533.38 L350.82,532.91 L352.47,532.44 L354.11,531.97 L355.76,531.50 L357.41,531.03 L359.06,530.56 L360.70,530.09 L362.35,529.62 L364.00,529.15 L365.65,528.68 L367.30,528.21 L368.94,527.74 L370.59,527.26 L372.24,526.77 L373.89,526.28 L375.54,525.78 L377.18,525.28 L378.83,524.78 L380.48,524.28 L382.13,523.78 L383.77,523.28 L385.42,522.78 L387.07,522.29 L388.72,521.80 L390.37,521.32 L392.01,520.84 L393.66,520.35 L395.31,519.85 L396.96,519.34 L398.61,518.81 L400.25,518.27 L401.90,517.71 L403.55,517.14 L405.20,516.56 L406.84,515.97 L408.49,515.36 L410.14,514.73 L411.79,514.08 L413.44,513.41 L415.08,512.72 L416.73,512.01 L418.38,511.27 L420.03,510.51 L421.68,509.73 L423.32,508.91 L424.97,508.07 L426.62,507.19 L428.27,506.27 L429.91,505.26 L431.56,504.19 L433.21,503.07" fill="none" stroke="#c9782c" stroke-width="1.0" stroke-linejoin="round" stroke-linecap="round"/>
<path d="M303.03,545.70 L304.12,545.43 L305.22,545.15 L306.31,544.86 L307.41,544.56 L308.50,544.26 L309.59,543.95 L310.69,543.64 L311.78,543.31 L312.88,542.99 L313.97,542.65 L315.06,542.31 L316.16,541.95 L317.25,541.59 L318.35,541.22 L319.44,540.83 L320.53,540.45 L321.63,540.05 L322.72,539.65 L323.82,539.25 L324.91,538.85 L326.00,538.44 L327.10,538.03 L328.19,537.62 L329.28,537.22 L330.38,536.81 L331.47,536.40 L332.57,535.98 L333.66,535.56 L334.75,535.14 L335.85,534.72 L336.94,534.29 L338.04,533.86 L339.13,533.43 L340.22,532.99 L341.32,532.54 L342.41,532.09 L343.51,531.64 L344.60,531.18 L345.69,530.72 L346.79,530.26 L347.88,529.79 L348.98,529.31 L350.07,528.83 L351.16,528.35 L352.26,527.86 L353.35,527.37 L354.45,526.87 L355.54,526.36 L356.63,525.85 L357.73,525.34 L358.82,524.81 L359.92,524.27 L361.01,523.73 L362.10,523.17 L363.20,522.61 L364.29,522.05 L365.39,521.47 L366.48,520.89 L367.57,520.31 L368.67,519.72 L369.76,519.13 L370.85,518.54 L371.95,517.94 L373.04,517.34 L374.14,516.73 L375.23,516.12 L376.32,515.50 L377.42,514.88 L378.51,514.26 L379.61,513.63 L380.70,513.00 L381.79,512.37 L382.89,511.74 L383.98,511.10 L385.08,510.46 L386.17,509.82 L387.26,509.18 L388.36,508.53 L389.45,507.87 L390.55,507.22 L391.64,506.56 L392.73,505.90 L393.83,505.24 L394.92,504.58 L396.02,503.92 L397.11,503.26 L398.20,502.61 L399.30,501.96 L400.39,501.31 L401.49,500.67 L402.58,500.03 L403.67,499.39 L404.77,498.75 L405.86,498.12 L406.96,497.48 L408.05,496.83 L409.14,496.19 L410.24,495.53 L411.33,494.87 L412.42,494.20 L413.52,493.53 L414.61,492.85 L415.71,492.18 L416.80,491.51 L417.89,490.84 L418.99,490.17 L420.08,489.49 L421.18,488.80 L422.27,488.08 L423.36,487.35 L424.46,486.60 L425.55,485.81 L426.65,485.00 L427.74,484.15 L428.83,483.22 L429.93,482.22 L431.02,481.17 L432.12,480.07 L433.21,478.95 L433.21,485.35 L432.12,486.28 L431.02,487.20 L429.93,488.09 L428.83,488.95 L427.74,489.76 L426.65,490.54 L425.55,491.29 L424.46,492.01 L423.36,492.72 L422.27,493.40 L421.18,494.07 L420.08,494.73 L418.99,495.37 L417.89,496.01 L416.80,496.64 L415.71,497.27 L414.61,497.90 L413.52,498.53 L412.42,499.16 L411.33,499.79 L410.24,500.40 L409.14,501.01 L408.05,501.62 L406.96,502.22 L405.86,502.81 L404.77,503.41 L403.67,504.00 L402.58,504.60 L401.49,505.19 L400.39,505.79 L399.30,506.39 L398.20,506.99 L397.11,507.60 L396.02,508.20 L394.92,508.81 L393.83,509.41 L392.73,510.02 L391.64,510.62 L390.55,511.22 L389.45,511.81 L388.36,512.41 L387.26,513.00 L386.17,513.58 L385.08,514.16 L383.98,514.74 L382.89,515.32 L381.79,515.89 L380.70,516.47 L379.61,517.04 L378.51,517.61 L377.42,518.17 L376.32,518.73 L375.23,519.29 L374.14,519.84 L373.04,520.38 L371.95,520.93 L370.85,521.46 L369.76,521.99 L368.67,522.52 L367.57,523.05 L366.48,523.58 L365.39,524.10 L364.29,524.62 L363.20,525.13 L362.10,525.65 L361.01,526.16 L359.92,526.66 L358.82,527.16 L357.73,527.66 L356.63,528.15 L355.54,528.64 L354.45,529.12 L353.35,529.59 L352.26,530.06 L351.16,530.53 L350.07,530.99 L348.98,531.45 L347.88,531.90 L346.79,532.35 L345.69,532.79 L344.60,533.23 L343.51,533.67 L342.41,534.10 L341.32,534.53 L340.22,534.95 L339.13,535.37 L338.04,535.79 L336.94,536.20 L335.85,536.61 L334.75,537.02 L333.66,537.42 L332.57,537.82 L331.47,538.22 L330.38,538.61 L329.28,539.01 L328.19,539.40 L327.10,539.79 L326.00,540.19 L324.91,540.58 L323.82,540.98 L322.72,541.37 L321.63,541.75 L320.53,542.14 L319.44,542.51 L318.35,542.88 L317.25,543.25 L316.16,543.60 L315.06,543.95 L313.97,544.28 L312.88,544.61 L311.78,544.94 L310.69,545.25 L309.59,545.57 L308.50,545.87 L307.41,546.17 L306.31,546.46 L305.22,546.75 L304.12,547.03 L303.03,547.30 Z" fill="#3a7ec6"/>
<path d="M303.03,546.50 L304.07,546.24 L305.11,545.98 L306.15,545.70 L307.19,545.43 L308.22,545.14 L309.26,544.85 L310.30,544.56 L311.34,544.26 L312.38,543.95 L313.42,543.64 L314.46,543.32 L315.50,542.99 L316.54,542.65 L317.57,542.31 L318.61,541.96 L319.65,541.60 L320.69,541.24 L321.73,540.87 L322.77,540.49 L323.81,540.12 L324.85,539.74 L325.88,539.36 L326.92,538.98 L327.96,538.60 L329.00,538.22 L330.04,537.84 L331.08,537.45 L332.12,537.07 L333.16,536.68 L334.20,536.29 L335.23,535.90 L336.27,535.50 L337.31,535.10 L338.35,534.70 L339.39,534.30 L340.43,533.89 L341.47,533.47 L342.51,533.06 L343.55,532.64 L344.58,532.21 L345.62,531.78 L346.66,531.35 L347.70,530.92 L348.74,530.48 L349.78,530.04 L350.82,529.59 L351.86,529.14 L352.90,528.68 L353.93,528.22 L354.97,527.76 L356.01,527.29 L357.05,526.81 L358.09,526.33 L359.13,525.84 L360.17,525.35 L361.21,524.85 L362.25,524.34 L363.28,523.83 L364.32,523.32 L365.36,522.80 L366.40,522.27 L367.44,521.75 L368.48,521.22 L369.52,520.69 L370.56,520.15 L371.59,519.62 L372.63,519.08 L373.67,518.53 L374.71,517.98 L375.75,517.42 L376.79,516.87 L377.83,516.30 L378.87,515.74 L379.91,515.17 L380.94,514.60 L381.98,514.03 L383.02,513.45 L384.06,512.88 L385.10,512.30" fill="none" stroke="#45a2dc" stroke-width="1.4" stroke-linejoin="round" stroke-linecap="round"/>
<path d="M303.03,546.50 L304.68,547.34 L306.33,548.18 L307.97,549.01 L309.62,549.85 L311.27,550.71 L312.92,551.60 L314.56,552.48 L316.21,553.33 L317.86,554.08 L319.51,554.74 L321.16,555.36 L322.80,555.93 L324.45,556.48 L326.10,557.01 L327.75,557.52 L329.40,558.03 L331.04,558.54 L332.69,559.04 L334.34,559.52 L335.99,559.98 L337.63,560.40 L339.28,560.79 L340.93,561.12 L342.58,561.44 L344.23,561.73 L345.87,562.01 L347.52,562.28 L349.17,562.53 L350.82,562.77 L352.47,563.00 L354.11,563.23 L355.76,563.46 L357.41,563.68 L359.06,563.90 L360.70,564.12 L362.35,564.33 L364.00,564.53 L365.65,564.73 L367.30,564.93 L368.94,565.11 L370.59,565.29 L372.24,565.47 L373.89,565.64 L375.54,565.80 L377.18,565.96 L378.83,566.12 L380.48,566.28 L382.13,566.43 L383.77,566.57 L385.42,566.71 L387.07,566.84 L388.72,566.96 L390.37,567.06 L392.01,567.16 L393.66,567.26 L395.31,567.35 L396.96,567.43 L398.61,567.52 L400.25,567.59 L401.90,567.67 L403.55,567.74 L405.20,567.81 L406.84,567.88 L408.49,567.94 L410.14,568.00 L411.79,568.05 L413.44,568.10 L415.08,568.15 L416.73,568.20 L418.38,568.24 L420.03,568.29 L421.68,568.33 L423.32,568.37 L424.97,568.41 L426.62,568.44 L428.27,568.47 L429.91,568.50 L431.56,568.53 L433.21,568.55" fill="none" stroke="#d42a8a" stroke-width="1.3" stroke-linejoin="round" stroke-linecap="round"/>
<path d="M303.03,546.50 L304.68,548.30 L306.33,549.98 L307.97,551.52 L309.62,552.88 L311.27,554.09 L312.92,555.20 L314.56,556.22 L316.21,557.12 L317.86,557.90 L319.51,558.58 L321.16,559.20 L322.80,559.77 L324.45,560.28 L326.10,560.75 L327.75,561.17 L329.40,561.55 L331.04,561.90 L332.69,562.23 L334.34,562.53 L335.99,562.81 L337.63,563.06 L339.28,563.30 L340.93,563.52 L342.58,563.73 L344.23,563.93 L345.87,564.12 L347.52,564.31 L349.17,564.48 L350.82,564.64 L352.47,564.80 L354.11,564.95 L355.76,565.09 L357.41,565.22 L359.06,565.35 L360.70,565.47 L362.35,565.59 L364.00,565.70 L365.65,565.81 L367.30,565.91 L368.94,566.01 L370.59,566.11 L372.24,566.21 L373.89,566.31 L375.54,566.40 L377.18,566.50 L378.83,566.59 L380.48,566.68 L382.13,566.77 L383.77,566.86 L385.42,566.94 L387.07,567.02 L388.72,567.10 L390.37,567.18 L392.01,567.26 L393.66,567.33 L395.31,567.41 L396.96,567.48 L398.61,567.55 L400.25,567.62 L401.90,567.69 L403.55,567.76 L405.20,567.82 L406.84,567.88 L408.49,567.94 L410.14,568.00 L411.79,568.05 L413.44,568.10 L415.08,568.15 L416.73,568.19 L418.38,568.24 L420.03,568.28 L421.68,568.32 L423.32,568.36 L424.97,568.40 L426.62,568.43 L428.27,568.47 L429.91,568.50 L431.56,568.52 L433.21,568.55" fill="none" stroke="#2a3060" stroke-width="1.3" stroke-linejoin="round" stroke-linecap="round"/>
<line x1="436.50" y1="480.50" x2="449.00" y2="480.50" stroke="#55b0e2" stroke-width="1.3"/>
<text x="454.20" y="483.70" font-size="9.1" fill="#333" stroke="#333" stroke-width="0.22" textLength="58.40" lengthAdjust="spacingAndGlyphs">Baseline PBMC</text>
<line x1="436.50" y1="503.50" x2="449.00" y2="503.50" stroke="#d08030" stroke-width="1.3"/>
<text x="454.20" y="506.70" font-size="9.1" fill="#333" stroke="#333" stroke-width="0.22" textLength="42.30" lengthAdjust="spacingAndGlyphs">Tumor only</text>
<line x1="436.50" y1="546.30" x2="449.00" y2="546.30" stroke="#1f4a7a" stroke-width="1.3"/>
<text x="454.20" y="549.50" font-size="9.1" fill="#333" stroke="#333" stroke-width="0.22" textLength="47.30" lengthAdjust="spacingAndGlyphs">D+21 PBMC</text>
<line x1="436.50" y1="559.00" x2="449.00" y2="559.00" stroke="#d42a8a" stroke-width="1.3"/>
<text x="454.20" y="562.20" font-size="9.1" fill="#333" stroke="#333" stroke-width="0.22" textLength="47.30" lengthAdjust="spacingAndGlyphs">D+90 PBMC</text>
<rect x="0.5" y="0.5" width="519" height="606" fill="none" stroke="#555" stroke-width="1"/>
</svg>
</body></html>
